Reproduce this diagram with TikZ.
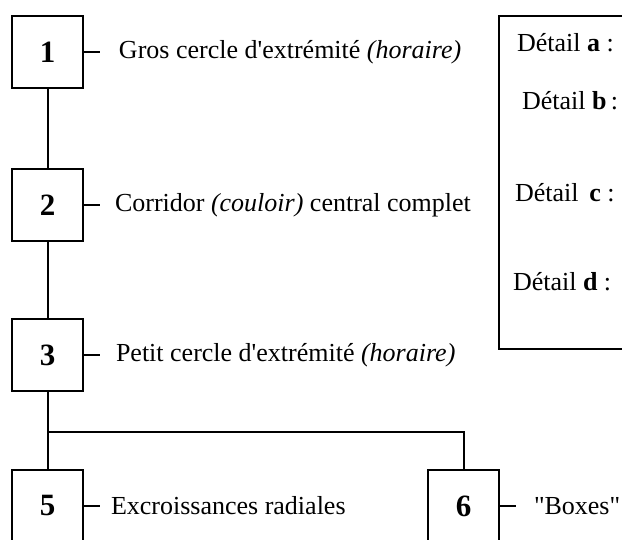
\documentclass[tikz,border=0pt]{standalone}
\usepackage{fontspec}
\setmainfont{Liberation Serif}
\usepackage{tikz}
\usetikzlibrary{positioning}

\begin{document}
\begin{tikzpicture}
	[x=0.5pt,y=-0.5pt,line width=1pt,
		stepbox/.style={draw,minimum width=35.5pt,minimum height=36pt,inner sep=0pt,font=\fontsize{15.5}{16}\selectfont\bfseries},
		steptext/.style={inner sep=0pt,font=\fontsize{13}{15}\selectfont},
		detailtext/.style={inner sep=0pt,anchor=west,font=\fontsize{13}{15}\selectfont}]

	\clip (0,0) rectangle (622,540);

	\node[stepbox] (s1) at (47.5,52) {1};
	\node[stepbox] (s2) at (47.5,205) {2};
	\node[stepbox] (s3) at (47.5,355) {3};
	\node[stepbox] (s5) at (47.5,506) {5};
	\node[stepbox] (s6) at (463.5,506) {6};
	% \node[stepbox] (s4) ...

	\node[steptext, right=17pt of s1] (t1) {Gros cercle d\textquotesingle extrémité \textit{(horaire)}};
	\node[steptext, right=15pt of s2] (t2) {Corridor \textit{(couloir)} central complet};
	\node[steptext, right=15.5pt of s3] (t3) {Petit cercle d\textquotesingle extrémité \textit{(horaire)}};
	\node[steptext, right=13pt of s5] (t5) {Excroissances radiales};
	\node[steptext, right=16.5pt of s6] (t6) {\textquotedbl Boxes\textquotedbl};

	\foreach \s in {s1,s2,s3,s5,s6}
		\draw (\s.east) -- ++(16,0);

	\draw (s1) -- (s2);
	\draw (s2) -- (s3);
	\draw (s3) -- (s5);
	\coordinate (fork) at (47.5,432);
	\draw (fork) -| (s6.north);

	% details frame
	\draw (499,16) rectangle (700,349);
	\node[detailtext] (da) at (516,43) {Détail \textbf{a} :};
	\node[detailtext] (db) at (521,101) {Détail \textbf{b}\,:};
	\node[detailtext] (dc) at (514,193) {Détail\ \,\textbf{c} :};
	\node[detailtext] (dd) at (512,282) {Détail \textbf{d} :};

\end{tikzpicture}
\end{document}
